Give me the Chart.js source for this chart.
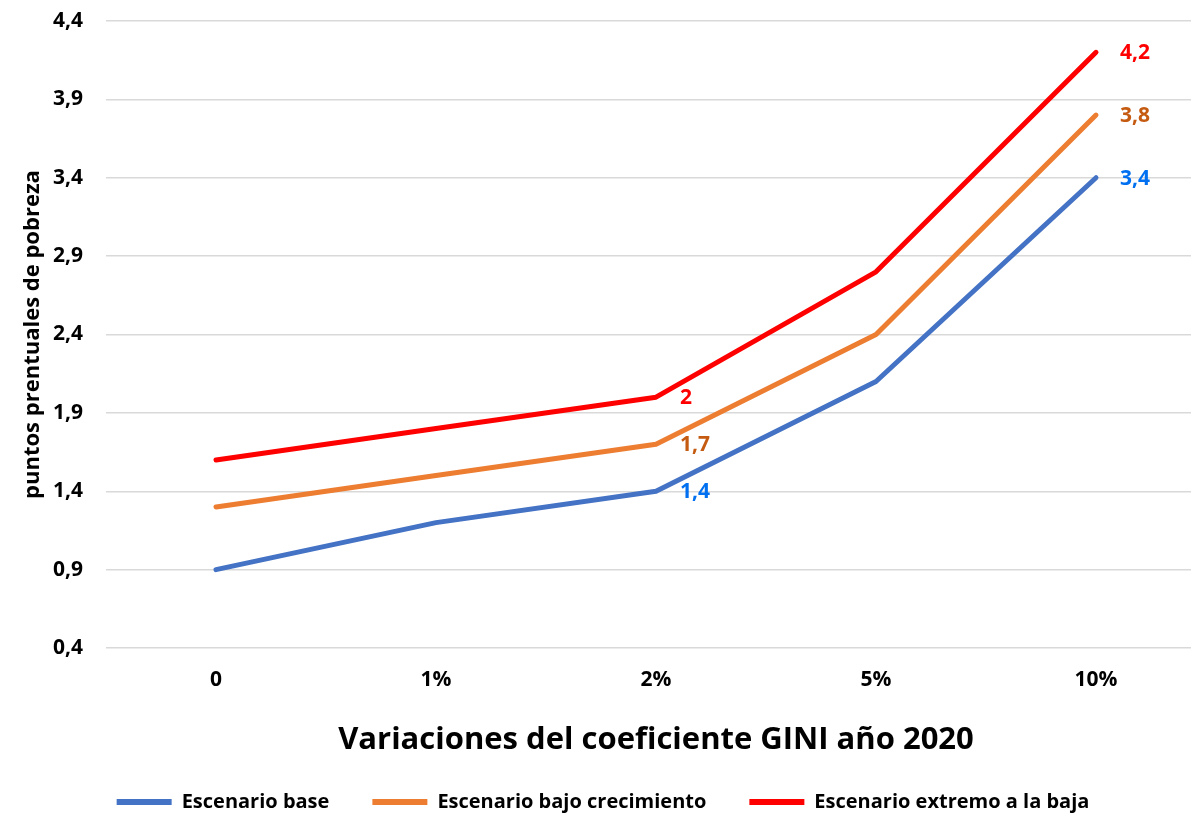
<!DOCTYPE html>
<html>
<head>
<meta charset="utf-8">
<script src="https://cdn.jsdelivr.net/npm/chart.js@4"></script>
<style>
  html, body { margin: 0; padding: 0; background: #fff; overflow: hidden; }
  #wrap { width: 1206px; height: 813px; position: relative; }
</style>
</head>
<body>
<div id="wrap"><canvas id="giniChart"></canvas></div>
<script>
// Chart data
const categories = ["0", "1%", "2%", "5%", "10%"];
const seriesNames = ["Escenario base", "Escenario bajo crecimiento", "Escenario extremo a la baja"];
const baseValues = [0.9, 1.2, 1.4, 2.1, 3.4];
const lowGrowthValues = [1.3, 1.5, 1.7, 2.4, 3.8];
const extremeValues = [1.6, 1.8, 2.0, 2.8, 4.2];
const yTickValues = [0.4, 0.9, 1.4, 1.9, 2.4, 2.9, 3.4, 3.9, 4.4];
const labelledPoints = [2, 4]; // only these categories carry value labels

const lineColors = ["#4472C4", "#ED7D31", "#FF0000"];
const labelColors = ["#0070F0", "#C55A11", "#FF0000"];
const FONT = "'Open Sans', 'Noto Sans', sans-serif";
const LEGEND_HEIGHT = 64;

function fmt(v) {
    return String(Math.round(v * 10) / 10).replace(".", ",");
}

// Draws value labels to the right of selected points
const valueLabels = {
    id: "valueLabels",
    afterDatasetsDraw(chart) {
        const ctx = chart.ctx;
        ctx.save();
        ctx.font = "bold 21px " + FONT;
        ctx.textAlign = "left";
        ctx.textBaseline = "middle";
        chart.data.datasets.forEach((ds, i) => {
            const meta = chart.getDatasetMeta(i);
            labelledPoints.forEach(idx => {
                const pt = meta.data[idx];
                ctx.fillStyle = labelColors[i];
                ctx.fillText(fmt(ds.data[idx]), pt.x + 24, pt.y + 1);
            });
        });
        ctx.restore();
    }
};

// Legend: wide gaps between items but a short box at the bottom
const legendHeightFix = {
    id: "legendHeightFix",
    beforeUpdate(chart) {
        const lg = chart.legend;
        if (lg && !lg._fixed) {
            const origFit = lg.fit;
            lg.fit = function() {
                origFit.call(this);
                this.height = LEGEND_HEIGHT;
            };
            lg._fixed = true;
        }
    }
};

const allSeries = [baseValues, lowGrowthValues, extremeValues];

new Chart(document.getElementById("giniChart"), {
    type: "line",
    data: {
        labels: categories,
        datasets: allSeries.map((vals, i) => ({
            label: seriesNames[i],
            data: vals,
            borderColor: lineColors[i],
            backgroundColor: lineColors[i],
            borderWidth: 5,
            borderCapStyle: "round",
            borderJoinStyle: "round",
            pointRadius: 0,
            tension: 0,
            fill: false
        }))
    },
    options: {
        responsive: true,
        maintainAspectRatio: false,
        animation: false,
        layout: { padding: { top: 21, right: 0, left: 0, bottom: 0 } },
        plugins: {
            tooltip: { enabled: false },
            legend: {
                position: "bottom",
                labels: {
                    boxWidth: 55,
                    boxHeight: 6,
                    padding: 43,
                    color: "#000",
                    font: { family: FONT, size: 20, weight: "bold" },
                    generateLabels(chart) {
                        return chart.data.datasets.map((ds, i) => ({
                            text: ds.label,
                            fillStyle: lineColors[i],
                            strokeStyle: lineColors[i],
                            lineWidth: 0,
                            datasetIndex: i
                        }));
                    }
                }
            }
        },
        scales: {
            x: {
                offset: true,
                grid: { display: false, drawTicks: false },
                border: { display: false },
                ticks: {
                    color: "#000",
                    padding: 19,
                    font: { family: FONT, size: 21, weight: "bold" }
                },
                title: {
                    display: true,
                    text: "Variaciones del coeficiente GINI año 2020",
                    color: "#000",
                    font: { family: FONT, size: 31, weight: "bold" },
                    padding: { top: 0, bottom: -10 }
                },
                afterFit(scale) { scale.height = 101; }
            },
            y: {
                min: 0.4,
                max: 4.4,
                grid: { color: "#D9D9D9", lineWidth: 1.5, drawTicks: false },
                border: { display: false },
                ticks: {
                    color: "#000",
                    padding: 23,
                    font: { family: FONT, size: 21, weight: "bold" },
                    callback: v => fmt(v)
                },
                afterBuildTicks(scale) {
                    scale.ticks = yTickValues.map(v => ({ value: v }));
                },
                title: {
                    display: true,
                    text: "puntos prentuales de pobreza",
                    color: "#000",
                    font: { family: FONT, size: 22, weight: "bold" },
                    padding: { top: 20, bottom: 0 }
                },
                afterFit(scale) {
                    scale.width = 106;
                    scale.paddingTop = 0;
                    scale.paddingBottom = 0;
                }
            }
        }
    },
    plugins: [valueLabels, legendHeightFix]
});
</script>
</body>
</html>
